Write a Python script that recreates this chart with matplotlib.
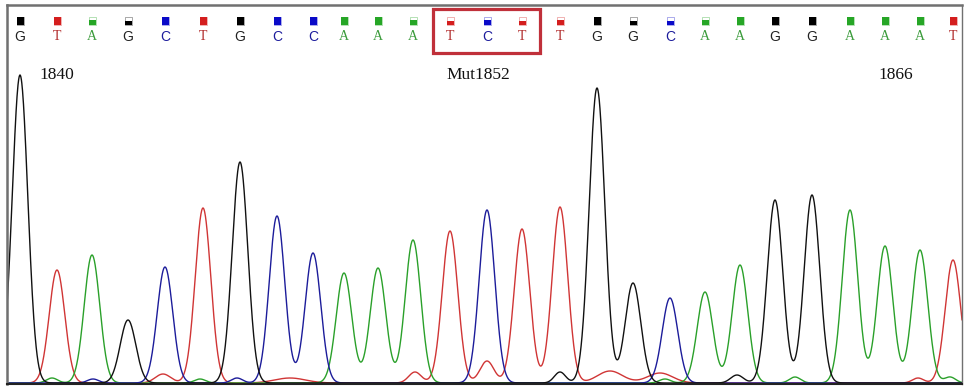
import numpy as np
import matplotlib
matplotlib.use("Agg")
import matplotlib.pyplot as plt
from matplotlib.patches import Rectangle
import matplotlib.transforms as mtransforms

# base calls, scan positions, peak heights, call quality (fraction of square filled)
bases = list("GTAGCTGCCAAATCTTGGCAAGGAAAT")
positions = [20, 57, 92, 128, 165, 203, 240, 277, 313, 344, 378, 413, 450, 487,
             522, 560, 597, 633, 670, 705, 740, 775, 812, 850, 885, 920, 953]
heights = [308, 113, 128, 63, 116, 175, 221, 167, 130, 110, 115, 143, 152, 173,
           154, 176, 295, 100, 85, 91, 118, 183, 188, 173, 137, 133, 123]
quality = [1.0, 1.0, 0.6, 0.45, 1.0, 1.0, 1.0, 1.0, 1.0, 1.0, 1.0, 0.6, 0.55, 0.6,
           0.55, 0.6, 1.0, 0.45, 0.5, 0.6, 1.0, 1.0, 1.0, 1.0, 1.0, 1.0, 1.0]

# small background signal: (base channel, position, height, width)
minor_peaks = [("A", 52, 5, 8), ("C", 93, 4, 8), ("T", 163, 9, 11), ("A", 200, 4, 8),
               ("C", 237, 5, 8), ("T", 290, 5, 22), ("T", 415, 11, 9), ("T", 487, 22, 10),
               ("G", 560, 11, 8), ("T", 610, 12, 18), ("T", 660, 10, 18), ("A", 665, 4, 8),
               ("G", 737, 8, 9), ("A", 795, 6, 8), ("T", 918, 5, 8), ("A", 950, 6, 8)]

labels = [(57, "1840"), (478, "Mut1852"), (896, "1866")]
mutation = (12, 14)  # first and last base index in the box

trace_col = {"G": "#111111", "A": "#2aa02a", "T": "#d03535", "C": "#1c1c9a"}
box_col = {"G": "#000000", "A": "#26a626", "T": "#d41e1e", "C": "#0a0ac8"}
text_col = {"G": "#222222", "A": "#3c9c3c", "T": "#b02828", "C": "#1c1c9c"}
text_font = {"G": "Liberation Sans", "C": "Liberation Sans",
             "A": "Liberation Serif", "T": "Liberation Serif"}

sigma = 7.8
x = np.linspace(7, 962, 4000)

fig = plt.figure(figsize=(9.64, 3.86), dpi=100)
ax = fig.add_axes([7 / 964, 2 / 386, 955 / 964, 379 / 386])
ax.set_xlim(7, 962)
ax.set_ylim(-1, 378)

for ch in "TACG":
    y = np.zeros_like(x)
    for b, p, h in zip(bases, positions, heights):
        if b == ch:
            y += h * np.exp(-(x - p) ** 2 / (2 * sigma ** 2))
    for b, p, h, w in minor_peaks:
        if b == ch:
            y += h * np.exp(-(x - p) ** 2 / (2 * (w * 0.7) ** 2))
    ax.plot(x, y, color=trace_col[ch], lw=1.0)

trans = mtransforms.blended_transform_factory(ax.transData, ax.transAxes)
sq_w, sq_h = 7, 7 / 379
sq_y = (384 - 24.5) / 379
for b, p, q in zip(bases, positions, quality):
    ax.add_patch(Rectangle((p - sq_w / 2, sq_y), sq_w, sq_h, transform=trans,
                           facecolor="white", edgecolor=box_col[b], lw=0.4, alpha=0.6))
    ax.add_patch(Rectangle((p - sq_w / 2, sq_y), sq_w, sq_h * q, transform=trans,
                           facecolor=box_col[b], edgecolor="none"))
    ax.text(p, (384 - 37) / 379, b, transform=trans, ha="center", va="center",
            fontsize=10, color=text_col[b], family=text_font[b])

for p, s in labels:
    ax.text(p, (384 - 75) / 379, s, transform=trans, ha="center", va="center",
            fontsize=12.5, family="Liberation Serif", color="#111111")

i0, i1 = mutation
left = positions[i0] - 17
right = positions[i1] + 18
ax.add_patch(Rectangle((left, (384 - 53) / 379), right - left, 44 / 379, transform=trans,
                       facecolor="none", edgecolor="#c0303a", lw=2.3))

ax.set_xticks([])
ax.set_yticks([])
for side in ["top", "left", "right"]:
    ax.spines[side].set_color("#707070")
    ax.spines[side].set_linewidth(1.8)
ax.spines["right"].set_linewidth(1.0)
ax.spines["bottom"].set_color("#222222")
ax.spines["bottom"].set_linewidth(1.5)

fig.savefig("out.png", dpi=100)
